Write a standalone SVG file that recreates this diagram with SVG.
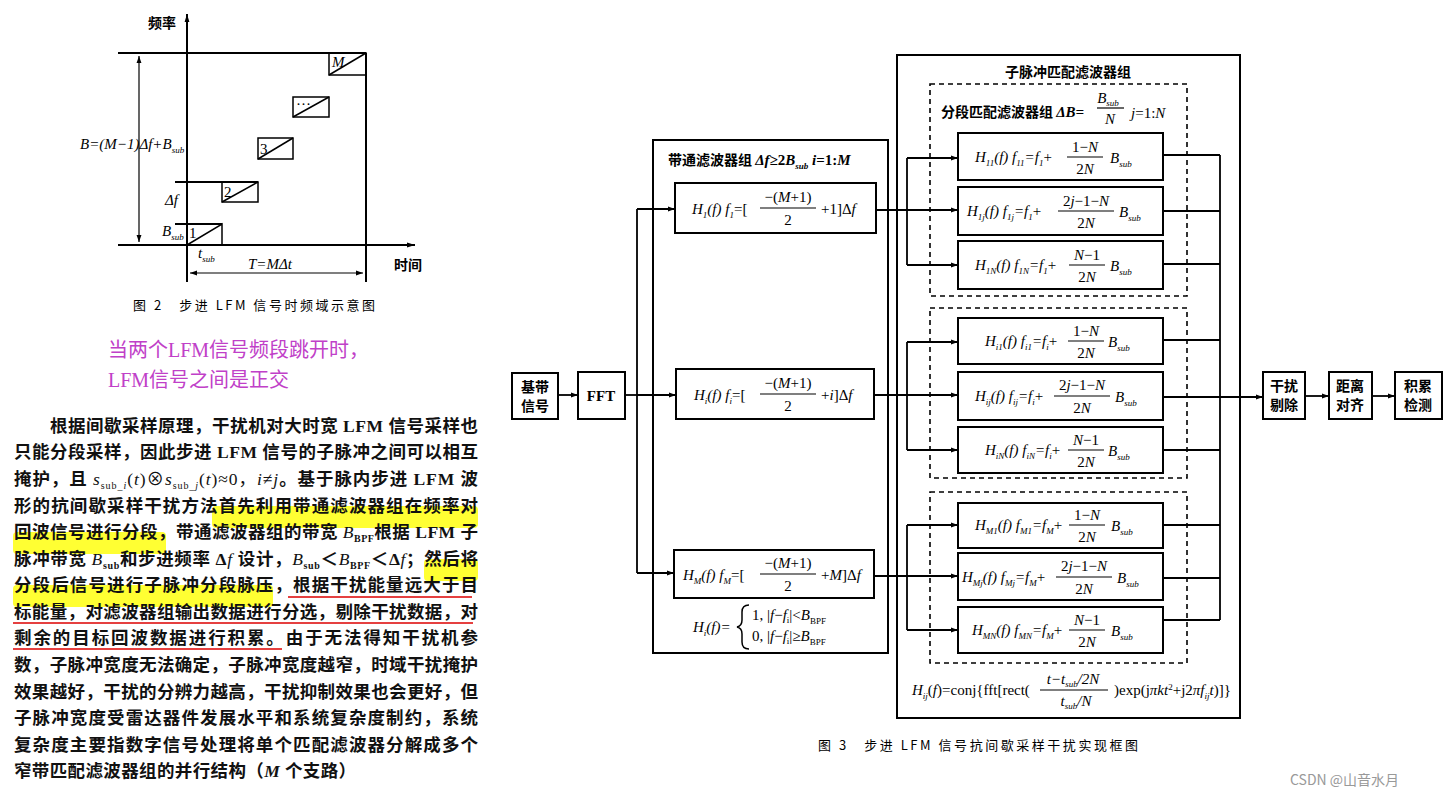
<svg xmlns="http://www.w3.org/2000/svg" width="1453" height="800" viewBox="0 0 1453 800">
<defs>
<marker id="ah" viewBox="0 0 10 10" refX="10" refY="5" markerWidth="7" markerHeight="7" orient="auto-start-reverse" markerUnits="userSpaceOnUse"><path d="M0,1.5 L10,5 L0,8.5 Z" fill="#000"/></marker>
<marker id="ah2" viewBox="0 0 10 10" refX="10" refY="5" markerWidth="10" markerHeight="8" orient="auto-start-reverse" markerUnits="userSpaceOnUse"><path d="M0,2 L10,5 L0,8 Z" fill="#000"/></marker>
</defs>
<style>
.ln{stroke:#000;stroke-width:2;fill:none}
.bx{stroke:#000;stroke-width:2;fill:#fff}
.dsh{stroke:#000;stroke-width:1.6;fill:none;stroke-dasharray:5,4}
.m{font-family:"Liberation Serif",serif;font-style:italic;font-size:15px;fill:#000}
.r{font-family:"Liberation Serif",serif;font-size:15px;fill:#000;font-style:normal}
.s{font-size:9px}
.cn{font-family:"Noto Sans CJK SC",sans-serif;font-weight:700;font-size:14px;fill:#000}
.cap{font-family:"Noto Sans CJK SC",sans-serif;font-size:13px;fill:#000}
.p{font-family:"Liberation Serif","Noto Sans CJK SC",serif;font-size:17.5px;font-weight:700;fill:#111}
.c{text-anchor:middle}
</style>
<rect width="1453" height="800" fill="#fff"/>

<!-- Figure 2 -->
<g id="fig2">
<line class="ln" x1="187" y1="282" x2="187" y2="14" marker-end="url(#ah2)"/>
<line class="ln" x1="118" y1="245" x2="415" y2="245" marker-end="url(#ah2)"/>
<line class="ln" x1="118" y1="53" x2="366" y2="53"/>
<line class="ln" x1="366" y1="53" x2="366" y2="282"/>
<line x1="139" y1="56" x2="139" y2="242" stroke="#000" stroke-width="1.2" marker-start="url(#ah)" marker-end="url(#ah)"/>
<line x1="190" y1="273" x2="363" y2="273" stroke="#000" stroke-width="1.2" marker-start="url(#ah)" marker-end="url(#ah)"/>
<line class="ln" x1="175" y1="182" x2="258" y2="182" stroke-width="1.5"/>
<line class="ln" x1="175" y1="224" x2="222" y2="224" stroke-width="1.5"/>
<g stroke="#000" stroke-width="1.5" fill="none">
<path d="M187,245 L222,224 L222,245"/>
<rect x="222" y="182" width="36" height="20"/><line x1="222" y1="202" x2="258" y2="182"/>
<rect x="258" y="138" width="35" height="21"/><line x1="258" y1="159" x2="293" y2="138"/>
<rect x="293" y="97" width="36" height="20"/><line x1="293" y1="117" x2="329" y2="97"/>
<rect x="329" y="53" width="37" height="22"/><line x1="329" y1="75" x2="366" y2="53"/>
</g>
<text class="r" x="189" y="238" font-size="14">1</text>
<text class="r" x="224" y="197" font-size="14">2</text>
<text class="r" x="260" y="154" font-size="14">3</text>
<text class="r" x="296" y="109" font-size="12">···</text>
<text class="m" x="332" y="67" font-size="14">M</text>
<text class="cn" x="148" y="28" font-size="14">频率</text>
<text class="cn" x="394" y="270" font-size="14">时间</text>
<text class="m" x="80" y="149" font-size="14">B=(M−1)Δf+B<tspan class="s" dy="4">sub</tspan></text>
<text class="m" x="165" y="205" font-size="14">Δf</text>
<text class="m" x="162" y="236" font-size="14">B<tspan class="s" dy="4">sub</tspan></text>
<text class="m" x="198" y="258" font-size="12">t<tspan class="s" dy="4">sub</tspan></text>
<text class="m" x="248" y="269" font-size="14">T=MΔt</text>
<text class="cap" x="133" y="310" font-size="13" textLength="242" lengthAdjust="spacing">图 2　步进 LFM 信号时频域示意图</text>
</g>

<g id="note" font-family="'Liberation Serif','Noto Sans CJK SC',serif" font-size="20" fill="#c040c8">
<text x="108" y="357">当两个LFM信号频段跳开时，</text>
<text x="108" y="387">LFM信号之间是正交</text>
</g>

<!-- paragraph -->
<g id="para">
<g fill="#ffff33">
<rect x="212" y="506" width="266" height="22" rx="4"/>
<rect x="13" y="532" width="153" height="22" rx="4"/>
<rect x="424" y="559" width="54" height="22" rx="4"/>
<rect x="13" y="585" width="260" height="22" rx="4"/>
</g>
<g stroke="#d00" stroke-width="1.3">
<line x1="288" y1="597" x2="472" y2="597"/>
<line x1="13" y1="623" x2="473" y2="623"/>
<line x1="13" y1="649" x2="282" y2="649"/>
</g>
<text class="p" x="50" y="432" textLength="428" lengthAdjust="spacing">根据间歇采样原理，干扰机对大时宽 LFM 信号采样也</text>
<text class="p" x="14" y="458" textLength="464" lengthAdjust="spacing">只能分段采样，因此步进 LFM 信号的子脉冲之间可以相互</text>
<text class="p" x="14" y="485" textLength="464" lengthAdjust="spacing">掩护，且 <tspan font-style="italic" font-weight="400">s</tspan><tspan font-size="10" dy="4" font-weight="400">sub_<tspan font-style="italic">i</tspan></tspan><tspan dy="-4" font-weight="400">(<tspan font-style="italic">t</tspan>)⊗<tspan font-style="italic">s</tspan></tspan><tspan font-size="10" dy="4" font-weight="400">sub_<tspan font-style="italic">j</tspan></tspan><tspan dy="-4" font-weight="400">(<tspan font-style="italic">t</tspan>)≈0，<tspan font-style="italic">i</tspan>≠<tspan font-style="italic">j</tspan></tspan>。基于脉内步进 LFM 波</text>
<text class="p" x="14" y="512" textLength="464" lengthAdjust="spacing">形的抗间歇采样干扰方法首先利用带通滤波器组在频率对</text>
<text class="p" x="14" y="538" textLength="464" lengthAdjust="spacing">回波信号进行分段，带通滤波器组的带宽 <tspan font-style="italic" font-weight="400">B</tspan><tspan font-size="10" dy="4">BPF</tspan><tspan dy="-4">根据 LFM 子</tspan></text>
<text class="p" x="14" y="565" textLength="464" lengthAdjust="spacing">脉冲带宽 <tspan font-style="italic" font-weight="400">B</tspan><tspan font-size="10" dy="4">sub</tspan><tspan dy="-4">和步进频率 Δ<tspan font-style="italic" font-weight="400">f</tspan> 设计，<tspan font-style="italic" font-weight="400">B</tspan></tspan><tspan font-size="10" dy="4">sub</tspan><tspan dy="-4">＜<tspan font-style="italic" font-weight="400">B</tspan></tspan><tspan font-size="10" dy="4">BPF</tspan><tspan dy="-4">＜Δ<tspan font-style="italic" font-weight="400">f</tspan>；然后将</tspan></text>
<text class="p" x="14" y="591" textLength="464" lengthAdjust="spacing">分段后信号进行子脉冲分段脉压，根据干扰能量远大于目</text>
<text class="p" x="14" y="618" textLength="464" lengthAdjust="spacing">标能量，对滤波器组输出数据进行分选，剔除干扰数据，对</text>
<text class="p" x="14" y="644" textLength="464" lengthAdjust="spacing">剩余的目标回波数据进行积累。由于无法得知干扰机参</text>
<text class="p" x="14" y="671" textLength="464" lengthAdjust="spacing">数，子脉冲宽度无法确定，子脉冲宽度越窄，时域干扰掩护</text>
<text class="p" x="14" y="698" textLength="464" lengthAdjust="spacing">效果越好，干扰的分辨力越高，干扰抑制效果也会更好，但</text>
<text class="p" x="14" y="724" textLength="464" lengthAdjust="spacing">子脉冲宽度受雷达器件发展水平和系统复杂度制约，系统</text>
<text class="p" x="14" y="751" textLength="464" lengthAdjust="spacing">复杂度主要指数字信号处理将单个匹配滤波器分解成多个</text>
<text class="p" x="14" y="777" textLength="342" lengthAdjust="spacing">窄带匹配滤波器组的并行结构（<tspan font-style="italic">M</tspan> 个支路）</text>
</g>

<!-- Figure 3 containers -->
<g id="bpf-group">
<rect class="ln" x="653" y="140" width="235" height="513"/>
<text class="cn" x="668" y="165">带通滤波器组 <tspan class="m" font-weight="700">Δf</tspan><tspan class="r" font-weight="700">≥2</tspan><tspan class="m" font-weight="700">B</tspan><tspan class="m s" dy="4">sub</tspan><tspan class="m" dy="-4" font-weight="700"> i</tspan><tspan class="r" font-weight="700">=1:</tspan><tspan class="m" font-weight="700">M</tspan></text>
<text class="m" x="693" y="632">H<tspan class="s" dy="4">i</tspan><tspan dy="-4">(f)=</tspan></text>
<path d="M749,605 Q742,605 742,612 L742,620 Q742,626 737,627 Q742,628 742,634 L742,642 Q742,649 749,649" stroke="#000" stroke-width="1.5" fill="none"/>
<text class="r" x="752" y="620" font-size="13">1, |<tspan font-style="italic">f</tspan>−<tspan font-style="italic">f</tspan><tspan class="s" dy="3">i</tspan><tspan dy="-3">|&lt;</tspan><tspan font-style="italic">B</tspan><tspan class="s" dy="4">BPF</tspan></text>
<text class="r" x="752" y="641" font-size="13">0, |<tspan font-style="italic">f</tspan>−<tspan font-style="italic">f</tspan><tspan class="s" dy="3">i</tspan><tspan dy="-3">|≥</tspan><tspan font-style="italic">B</tspan><tspan class="s" dy="4">BPF</tspan></text>
</g>
<g id="sub-group">
<rect class="ln" x="897" y="55" width="343" height="663"/>
<text class="cn c" x="1068" y="77">子脉冲匹配滤波器组</text>
<rect class="dsh" x="930" y="84" width="257" height="212"/>
<rect class="dsh" x="930" y="308" width="257" height="170"/>
<rect class="dsh" x="930" y="492" width="257" height="171"/>
<text class="cn" x="941" y="117" font-size="13">分段匹配滤波器组 <tspan class="m" font-weight="700">ΔB=</tspan></text>
<text class="m c" x="1108" y="103" font-size="14">B<tspan class="s" dy="3">sub</tspan></text>
<line x1="1097" y1="108" x2="1124" y2="108" stroke="#000" stroke-width="1.2"/>
<text class="m c" x="1110" y="124">N</text>
<text class="m" x="1131" y="118">j<tspan class="r">=1:</tspan>N</text>
<text class="m" x="912" y="695">H<tspan class="s" dy="4">ij</tspan><tspan dy="-4" class="r">(<tspan font-style="italic">f</tspan>)=conj{fft[rect(</tspan></text>
<text class="m c" x="1073" y="684" font-size="14">t−t<tspan class="s" dy="3">sub</tspan><tspan dy="-3">/2N</tspan></text>
<line x1="1040" y1="690" x2="1108" y2="690" stroke="#000" stroke-width="1.2"/>
<text class="m c" x="1076" y="706" font-size="14">t<tspan class="s" dy="3">sub</tspan><tspan dy="-3">/N</tspan></text>
<text class="r" x="1114" y="695">)exp(j<tspan font-style="italic">πkt</tspan><tspan class="s" dy="-5">2</tspan><tspan dy="5">+j2</tspan><tspan font-style="italic">πf</tspan><tspan class="s" dy="4" font-style="italic">ij</tspan><tspan dy="-4" font-style="italic">t</tspan>)]}</text>
</g>

<!-- connectors -->
<g id="connectors" stroke="#000" stroke-width="1.8" fill="none">
<line x1="558" y1="395" x2="578" y2="395" marker-end="url(#ah)"/>
<polyline points="625,395 637,395"/>
<line x1="637" y1="209" x2="637" y2="573"/>
<line x1="637" y1="209" x2="675" y2="209" marker-end="url(#ah)"/>
<line x1="637" y1="395" x2="676" y2="395" marker-end="url(#ah)"/>
<line x1="637" y1="573" x2="674" y2="573" marker-end="url(#ah)"/>
<line x1="876" y1="210" x2="958" y2="210" marker-end="url(#ah)"/>
<line x1="907" y1="158" x2="907" y2="265"/>
<line x1="907" y1="158" x2="958" y2="158" marker-end="url(#ah)"/>
<line x1="907" y1="265" x2="958" y2="265" marker-end="url(#ah)"/>
<line x1="874" y1="395" x2="958" y2="395" marker-end="url(#ah)"/>
<line x1="907" y1="342" x2="907" y2="450"/>
<line x1="907" y1="342" x2="958" y2="342" marker-end="url(#ah)"/>
<line x1="907" y1="450" x2="958" y2="450" marker-end="url(#ah)"/>
<line x1="874" y1="576" x2="958" y2="576" marker-end="url(#ah)"/>
<line x1="907" y1="525" x2="907" y2="630"/>
<line x1="907" y1="525" x2="958" y2="525" marker-end="url(#ah)"/>
<line x1="907" y1="630" x2="958" y2="630" marker-end="url(#ah)"/>
<line x1="1163" y1="155" x2="1220" y2="155"/>
<line x1="1163" y1="211" x2="1220" y2="211"/>
<line x1="1163" y1="264" x2="1220" y2="264"/>
<line x1="1163" y1="340" x2="1220" y2="340"/>
<line x1="1163" y1="397" x2="1220" y2="397"/>
<line x1="1163" y1="450" x2="1220" y2="450"/>
<line x1="1163" y1="525" x2="1220" y2="525"/>
<line x1="1163" y1="578" x2="1220" y2="578"/>
<line x1="1163" y1="620" x2="1220" y2="620"/>
<line x1="1220" y1="155" x2="1220" y2="620"/>
<line x1="1220" y1="397" x2="1263" y2="397" marker-end="url(#ah)"/>
<line x1="1305" y1="396" x2="1329" y2="396" marker-end="url(#ah)"/>
<line x1="1372" y1="396" x2="1395" y2="396" marker-end="url(#ah)"/>
</g>

<!-- nodes -->
<g id="baseband"><rect class="bx" x="512" y="373" width="46" height="46"/><text class="cn c" x="535" y="392">基带</text><text class="cn c" x="535" y="411">信号</text></g>
<g id="fft"><rect class="bx" x="578" y="372" width="47" height="47"/><text class="r c" x="601" y="401" font-weight="700" font-size="15">FFT</text></g>
<g id="h1">
<rect class="bx" x="675" y="183" width="201" height="50"/>
<text class="m" x="692" y="214">H<tspan class="s" dy="4">1</tspan><tspan dy="-4">(f) f</tspan><tspan class="s" dy="4">1</tspan><tspan dy="-4" class="r">=[</tspan></text>
<text class="r c" x="788" y="202">−(<tspan font-style="italic">M</tspan>+1)</text>
<line x1="760" y1="208" x2="816" y2="208" stroke="#000" stroke-width="1.2"/>
<text class="r c" x="788" y="225">2</text>
<text class="r" x="821" y="214">+1]Δ<tspan font-style="italic">f</tspan></text>
</g>
<g id="hi">
<rect class="bx" x="676" y="369" width="198" height="50"/>
<text class="m" x="694" y="400">H<tspan class="s" dy="4">i</tspan><tspan dy="-4">(f) f</tspan><tspan class="s" dy="4">i</tspan><tspan dy="-4" class="r">=[</tspan></text>
<text class="r c" x="788" y="388">−(<tspan font-style="italic">M</tspan>+1)</text>
<line x1="760" y1="394" x2="816" y2="394" stroke="#000" stroke-width="1.2"/>
<text class="r c" x="788" y="411">2</text>
<text class="r" x="821" y="400">+<tspan font-style="italic">i</tspan>]Δ<tspan font-style="italic">f</tspan></text>
</g>
<g id="hm">
<rect class="bx" x="674" y="550" width="200" height="48"/>
<text class="m" x="683" y="580">H<tspan class="s" dy="4">M</tspan><tspan dy="-4">(f) f</tspan><tspan class="s" dy="4">M</tspan><tspan dy="-4" class="r">=[</tspan></text>
<text class="r c" x="788" y="568">−(<tspan font-style="italic">M</tspan>+1)</text>
<line x1="760" y1="574" x2="816" y2="574" stroke="#000" stroke-width="1.2"/>
<text class="r c" x="788" y="591">2</text>
<text class="r" x="821" y="580">+<tspan font-style="italic">M</tspan>]Δ<tspan font-style="italic">f</tspan></text>
</g>

<g id="h11"><rect class="bx" x="958" y="133" width="205" height="47"/>
<text class="m" x="975" y="162">H<tspan class="s" dy="4">11</tspan><tspan dy="-4">(f) f</tspan><tspan class="s" dy="4">11</tspan><tspan dy="-4">=f</tspan><tspan class="s" dy="4">1</tspan><tspan dy="-4" class="r">+</tspan></text>
<text class="r c" x="1085" y="152" font-size="14">1−<tspan font-style="italic">N</tspan></text><line x1="1067" y1="157" x2="1103" y2="157" stroke="#000" stroke-width="1.2"/><text class="r c" x="1085" y="174" font-size="14">2<tspan font-style="italic">N</tspan></text>
<text class="m" x="1110" y="163">B<tspan class="s" dy="4">sub</tspan></text></g>
<g id="h1j"><rect class="bx" x="958" y="187" width="205" height="48"/>
<text class="m" x="967" y="216">H<tspan class="s" dy="4">1j</tspan><tspan dy="-4">(f) f</tspan><tspan class="s" dy="4">1j</tspan><tspan dy="-4">=f</tspan><tspan class="s" dy="4">1</tspan><tspan dy="-4" class="r">+</tspan></text>
<text class="r c" x="1086" y="206" font-size="14">2<tspan font-style="italic">j</tspan>−1−<tspan font-style="italic">N</tspan></text><line x1="1058" y1="211" x2="1114" y2="211" stroke="#000" stroke-width="1.2"/><text class="r c" x="1086" y="228" font-size="14">2<tspan font-style="italic">N</tspan></text>
<text class="m" x="1119" y="217">B<tspan class="s" dy="4">sub</tspan></text></g>
<g id="h1n"><rect class="bx" x="958" y="241" width="205" height="48"/>
<text class="m" x="975" y="270">H<tspan class="s" dy="4">1N</tspan><tspan dy="-4">(f) f</tspan><tspan class="s" dy="4">1N</tspan><tspan dy="-4">=f</tspan><tspan class="s" dy="4">1</tspan><tspan dy="-4" class="r">+</tspan></text>
<text class="r c" x="1087" y="260" font-size="14"><tspan font-style="italic">N</tspan>−1</text><line x1="1069" y1="265" x2="1105" y2="265" stroke="#000" stroke-width="1.2"/><text class="r c" x="1087" y="282" font-size="14">2<tspan font-style="italic">N</tspan></text>
<text class="m" x="1110" y="271">B<tspan class="s" dy="4">sub</tspan></text></g>

<g id="hi1"><rect class="bx" x="958" y="318" width="205" height="46"/>
<text class="m" x="985" y="346">H<tspan class="s" dy="4">i1</tspan><tspan dy="-4">(f) f</tspan><tspan class="s" dy="4">i1</tspan><tspan dy="-4">=f</tspan><tspan class="s" dy="4">i</tspan><tspan dy="-4" class="r">+</tspan></text>
<text class="r c" x="1086" y="336" font-size="14">1−<tspan font-style="italic">N</tspan></text><line x1="1068" y1="341" x2="1104" y2="341" stroke="#000" stroke-width="1.2"/><text class="r c" x="1086" y="358" font-size="14">2<tspan font-style="italic">N</tspan></text>
<text class="m" x="1108" y="347">B<tspan class="s" dy="4">sub</tspan></text></g>
<g id="hij"><rect class="bx" x="958" y="372" width="205" height="48"/>
<text class="m" x="975" y="401">H<tspan class="s" dy="4">ij</tspan><tspan dy="-4">(f) f</tspan><tspan class="s" dy="4">ij</tspan><tspan dy="-4">=f</tspan><tspan class="s" dy="4">i</tspan><tspan dy="-4" class="r">+</tspan></text>
<text class="r c" x="1082" y="390" font-size="14">2<tspan font-style="italic">j</tspan>−1−<tspan font-style="italic">N</tspan></text><line x1="1054" y1="396" x2="1110" y2="396" stroke="#000" stroke-width="1.2"/><text class="r c" x="1082" y="413" font-size="14">2<tspan font-style="italic">N</tspan></text>
<text class="m" x="1115" y="402">B<tspan class="s" dy="4">sub</tspan></text></g>
<g id="hin"><rect class="bx" x="958" y="427" width="205" height="46"/>
<text class="m" x="985" y="455">H<tspan class="s" dy="4">iN</tspan><tspan dy="-4">(f) f</tspan><tspan class="s" dy="4">iN</tspan><tspan dy="-4">=f</tspan><tspan class="s" dy="4">i</tspan><tspan dy="-4" class="r">+</tspan></text>
<text class="r c" x="1086" y="445" font-size="14"><tspan font-style="italic">N</tspan>−1</text><line x1="1068" y1="450" x2="1104" y2="450" stroke="#000" stroke-width="1.2"/><text class="r c" x="1086" y="467" font-size="14">2<tspan font-style="italic">N</tspan></text>
<text class="m" x="1108" y="456">B<tspan class="s" dy="4">sub</tspan></text></g>

<g id="hm1"><rect class="bx" x="958" y="503" width="205" height="45"/>
<text class="m" x="975" y="530">H<tspan class="s" dy="4">M1</tspan><tspan dy="-4">(f) f</tspan><tspan class="s" dy="4">M1</tspan><tspan dy="-4">=f</tspan><tspan class="s" dy="4">M</tspan><tspan dy="-4" class="r">+</tspan></text>
<text class="r c" x="1087" y="520" font-size="14">1−<tspan font-style="italic">N</tspan></text><line x1="1069" y1="525" x2="1105" y2="525" stroke="#000" stroke-width="1.2"/><text class="r c" x="1087" y="542" font-size="14">2<tspan font-style="italic">N</tspan></text>
<text class="m" x="1111" y="531">B<tspan class="s" dy="4">sub</tspan></text></g>
<g id="hmj"><rect class="bx" x="958" y="553" width="205" height="47"/>
<text class="m" x="962" y="582">H<tspan class="s" dy="4">Mj</tspan><tspan dy="-4">(f) f</tspan><tspan class="s" dy="4">Mj</tspan><tspan dy="-4">=f</tspan><tspan class="s" dy="4">M</tspan><tspan dy="-4" class="r">+</tspan></text>
<text class="r c" x="1084" y="571" font-size="14">2<tspan font-style="italic">j</tspan>−1−<tspan font-style="italic">N</tspan></text><line x1="1056" y1="577" x2="1112" y2="577" stroke="#000" stroke-width="1.2"/><text class="r c" x="1084" y="594" font-size="14">2<tspan font-style="italic">N</tspan></text>
<text class="m" x="1117" y="583">B<tspan class="s" dy="4">sub</tspan></text></g>
<g id="hmn"><rect class="bx" x="958" y="607" width="205" height="46"/>
<text class="m" x="972" y="635">H<tspan class="s" dy="4">MN</tspan><tspan dy="-4">(f) f</tspan><tspan class="s" dy="4">MN</tspan><tspan dy="-4">=f</tspan><tspan class="s" dy="4">M</tspan><tspan dy="-4" class="r">+</tspan></text>
<text class="r c" x="1087" y="625" font-size="14"><tspan font-style="italic">N</tspan>−1</text><line x1="1069" y1="630" x2="1105" y2="630" stroke="#000" stroke-width="1.2"/><text class="r c" x="1087" y="647" font-size="14">2<tspan font-style="italic">N</tspan></text>
<text class="m" x="1111" y="636">B<tspan class="s" dy="4">sub</tspan></text></g>

<g id="jam-remove"><rect class="bx" x="1263" y="372" width="42" height="47"/><text class="cn c" x="1284" y="391">干扰</text><text class="cn c" x="1284" y="410">剔除</text></g>
<g id="range-align"><rect class="bx" x="1329" y="372" width="43" height="47"/><text class="cn c" x="1350" y="391">距离</text><text class="cn c" x="1350" y="410">对齐</text></g>
<g id="accum-detect"><rect class="bx" x="1395" y="372" width="47" height="47"/><text class="cn c" x="1418" y="391">积累</text><text class="cn c" x="1418" y="410">检测</text></g>

<text class="cap" x="818" y="750" textLength="320" lengthAdjust="spacing">图 3　步进 LFM 信号抗间歇采样干扰实现框图</text>
<text x="1290" y="785" font-family="'Noto Sans CJK SC',sans-serif" font-size="14" fill="#999">CSDN @山音水月</text>
</svg>
